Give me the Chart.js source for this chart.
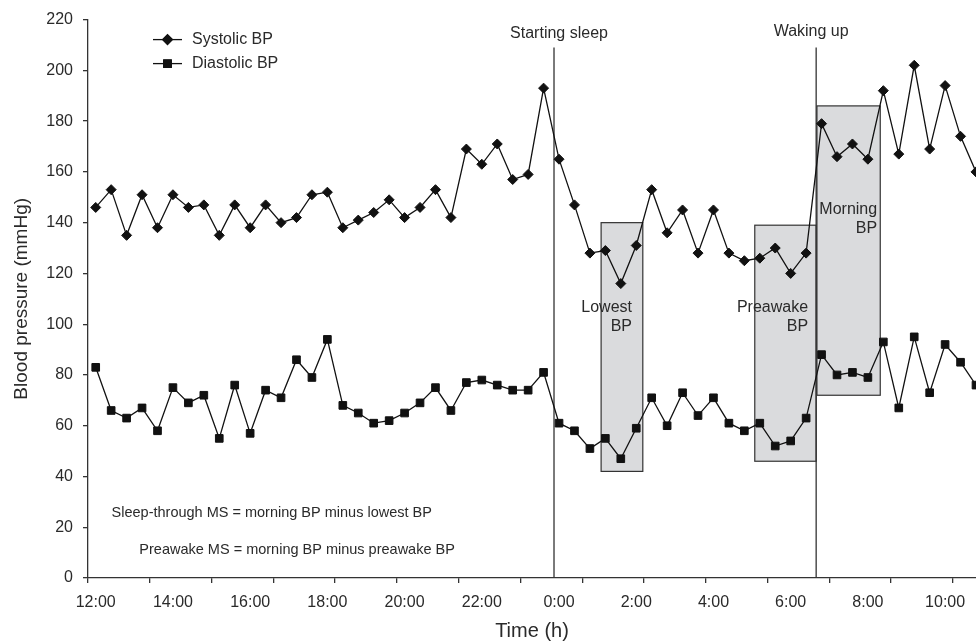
<!DOCTYPE html>
<html>
<head>
<meta charset="utf-8">
<script src="https://cdn.jsdelivr.net/npm/chart.js@4.4.1/dist/chart.umd.min.js"></script>
<style>
  body { margin: 0; background: #fff; }
  #wrap { width: 976px; height: 641px; position: relative; }
</style>
</head>
<body>
<div id="wrap"><canvas id="bpChart"></canvas></div>
<script>
// readings every 0.4 h starting at 12:00 (hour 0)
const readingStep = 0.4;
const systolic = [146, 153, 135, 151, 138, 151, 146, 147, 135, 147, 138, 147, 140, 142, 151, 152, 138, 141, 144, 149,
  142, 146, 153, 142, 169, 163, 171, 157, 159, 193, 165, 147, 128, 129, 116, 131, 153, 136, 145, 128,
  145, 128, 125, 126, 130, 120, 128, 179, 166, 171, 165, 192, 167, 202, 169, 194, 174, 160];
const diastolic = [83, 66, 63, 67, 58, 75, 69, 72, 55, 76, 57, 74, 71, 86, 79, 94, 68, 65, 61, 62,
  65, 69, 75, 66, 77, 78, 76, 74, 74, 81, 61, 58, 51, 55, 47, 59, 71, 60, 73, 64,
  71, 61, 58, 61, 52, 54, 63, 88, 80, 81, 79, 93, 67, 95, 73, 92, 85, 76];

const labelHours = [0, 2, 4, 6, 8, 10, 12, 14, 16, 18, 20, 22];
const timeLabels = ['12:00', '14:00', '16:00', '18:00', '20:00', '22:00', '0:00', '2:00', '4:00', '6:00', '8:00', '10:00'];
const tickMarkHours = [-0.2, 1.4, 3.0, 4.6, 6.2, 7.8, 9.4, 11.0, 12.6, 14.2, 15.8, 17.4, 19.0, 20.6, 22.2];
const yTicks = [0, 20, 40, 60, 80, 100, 120, 140, 160, 180, 200, 220];

// events and highlighted windows (hours, mmHg)
const sleepStart = 11.87;
const wakeUp = 18.66;
const eventLineTop = 209;
const lowestBox = [13.09, 14.17, 42, 140];
const preawakeBox = [17.07, 18.66, 46, 139];
const morningBox = [18.68, 20.32, 72, 186];

const FONT = "'Liberation Sans', Arial, sans-serif";
const INK = '#111';
const TEXT = '#2a2a2a';

const toPoints = arr => arr.map((v, i) => ({ x: i * readingStep, y: v }));

const annotations = {
  id: 'annotations',
  beforeDatasetsDraw(chart) {
    const { ctx, scales: { x, y } } = chart;
    ctx.save();
    [lowestBox, preawakeBox, morningBox].forEach(b => {
      const x0 = x.getPixelForValue(b[0]), x1 = x.getPixelForValue(b[1]);
      const y0 = y.getPixelForValue(b[3]), y1 = y.getPixelForValue(b[2]);
      ctx.fillStyle = '#dadbdd';
      ctx.fillRect(x0, y0, x1 - x0, y1 - y0);
      ctx.strokeStyle = '#333';
      ctx.lineWidth = 1.2;
      ctx.strokeRect(x0, y0, x1 - x0, y1 - y0);
    });
    [sleepStart, wakeUp].forEach(h => {
      const px = x.getPixelForValue(h);
      ctx.beginPath();
      ctx.moveTo(px, y.getPixelForValue(eventLineTop));
      ctx.lineTo(px, y.getPixelForValue(0));
      ctx.strokeStyle = '#333';
      ctx.lineWidth = 1.3;
      ctx.stroke();
    });
    ctx.restore();
  },
  afterDatasetsDraw(chart) {
    const { ctx, chartArea, scales: { x, y } } = chart;
    ctx.save();
    ctx.fillStyle = TEXT;
    ctx.textBaseline = 'middle';

    ctx.font = '16px ' + FONT;
    ctx.textAlign = 'center';
    ctx.fillText('Starting sleep', x.getPixelForValue(12.0), y.getPixelForValue(214.5));
    ctx.fillText('Waking up', x.getPixelForValue(18.53), y.getPixelForValue(215.3));

    ctx.textAlign = 'right';
    const boxText = (h, v, lines) => {
      lines.forEach((t, i) => ctx.fillText(t, x.getPixelForValue(h), y.getPixelForValue(v) + i * 19));
    };
    boxText(13.89, 106.5, ['Lowest', 'BP']);
    boxText(18.45, 106.5, ['Preawake', 'BP']);
    boxText(20.24, 145, ['Morning', 'BP']);

    ctx.font = '14.5px ' + FONT;
    ctx.textAlign = 'left';
    ctx.fillText('Sleep-through MS = morning BP minus lowest BP', x.getPixelForValue(0.41), y.getPixelForValue(25.5));
    ctx.fillText('Preawake MS = morning BP minus preawake BP', x.getPixelForValue(1.13), y.getPixelForValue(11));

    // legend
    const items = [['Systolic BP', 'rectRot', 5], ['Diastolic BP', 'rect', 5.4]];
    items.forEach((it, i) => {
      const ly = chartArea.top + 20 + i * 24;
      const lx = chartArea.left + 65;
      ctx.beginPath();
      ctx.moveTo(lx, ly);
      ctx.lineTo(lx + 29, ly);
      ctx.strokeStyle = INK;
      ctx.lineWidth = 1.3;
      ctx.stroke();
      ctx.fillStyle = INK;
      Chart.helpers.drawPoint(ctx, { pointStyle: it[1], radius: it[2], borderWidth: 1 }, lx + 14.5, ly);
      ctx.fill();
      ctx.fillStyle = TEXT;
      ctx.font = '16px ' + FONT;
      ctx.fillText(it[0], lx + 39, ly);
    });
    ctx.restore();
  }
};

new Chart(document.getElementById('bpChart'), {
  type: 'line',
  data: {
    datasets: [{
      label: 'Systolic BP',
      data: toPoints(systolic),
      borderColor: INK,
      borderWidth: 1.3,
      pointStyle: 'rectRot',
      pointRadius: 5,
      pointBackgroundColor: INK,
      pointBorderColor: INK,
      pointBorderWidth: 1,
      tension: 0
    }, {
      label: 'Diastolic BP',
      data: toPoints(diastolic),
      borderColor: INK,
      borderWidth: 1.3,
      pointStyle: 'rect',
      pointRadius: 5.4,
      pointBackgroundColor: INK,
      pointBorderColor: INK,
      pointBorderWidth: 1,
      tension: 0
    }]
  },
  options: {
    responsive: true,
    maintainAspectRatio: false,
    animation: false,
    layout: { autoPadding: false, padding: { top: 18, right: 0, left: 0, bottom: 0 } },
    plugins: {
      legend: { display: false },
      tooltip: { enabled: false }
    },
    scales: {
      x: {
        type: 'linear',
        min: -0.2,
        max: 22.8,
        afterBuildTicks: axis => {
          const marks = tickMarkHours.map(v => ({ value: v, mark: true }));
          const labs = labelHours.map((v, i) => ({ value: v, text: timeLabels[i] }));
          axis.ticks = marks.concat(labs).sort((a, b) => a.value - b.value);
        },
        afterFit: s => {
          s.height = 63;
          s.paddingLeft = 0;
          s.paddingRight = 0;
        },
        ticks: {
          autoSkip: false,
          maxRotation: 0,
          padding: 10,
          color: TEXT,
          font: { family: FONT, size: 16 },
          callback: (value, index, ticks) => ticks[index].mark ? '' : ticks[index].text
        },
        grid: {
          drawOnChartArea: false,
          tickLength: 5,
          lineWidth: 1.3,
          tickColor: ctx => (ctx.tick && ctx.tick.mark) ? '#333' : 'rgba(0,0,0,0)'
        },
        border: { display: true, color: '#333', width: 1.3 },
        title: {
          display: true,
          text: 'Time (h)',
          color: TEXT,
          font: { family: FONT, size: 20, lineHeight: 1 },
          padding: { top: 0, bottom: 0 }
        }
      },
      y: {
        min: 0,
        max: 220,
        afterBuildTicks: axis => { axis.ticks = yTicks.map(v => ({ value: v })); },
        afterFit: s => { s.width = 88; },
        ticks: {
          padding: 10,
          color: TEXT,
          font: { family: FONT, size: 16 }
        },
        grid: {
          drawOnChartArea: false,
          tickLength: 5,
          lineWidth: 1.3,
          tickColor: '#333'
        },
        border: { display: true, color: '#333', width: 1.3 },
        title: {
          display: true,
          text: 'Blood pressure (mmHg)',
          color: TEXT,
          font: { family: FONT, size: 19 },
          padding: { top: 10, bottom: 0 }
        }
      }
    }
  },
  plugins: [annotations]
});
</script>
</body>
</html>
